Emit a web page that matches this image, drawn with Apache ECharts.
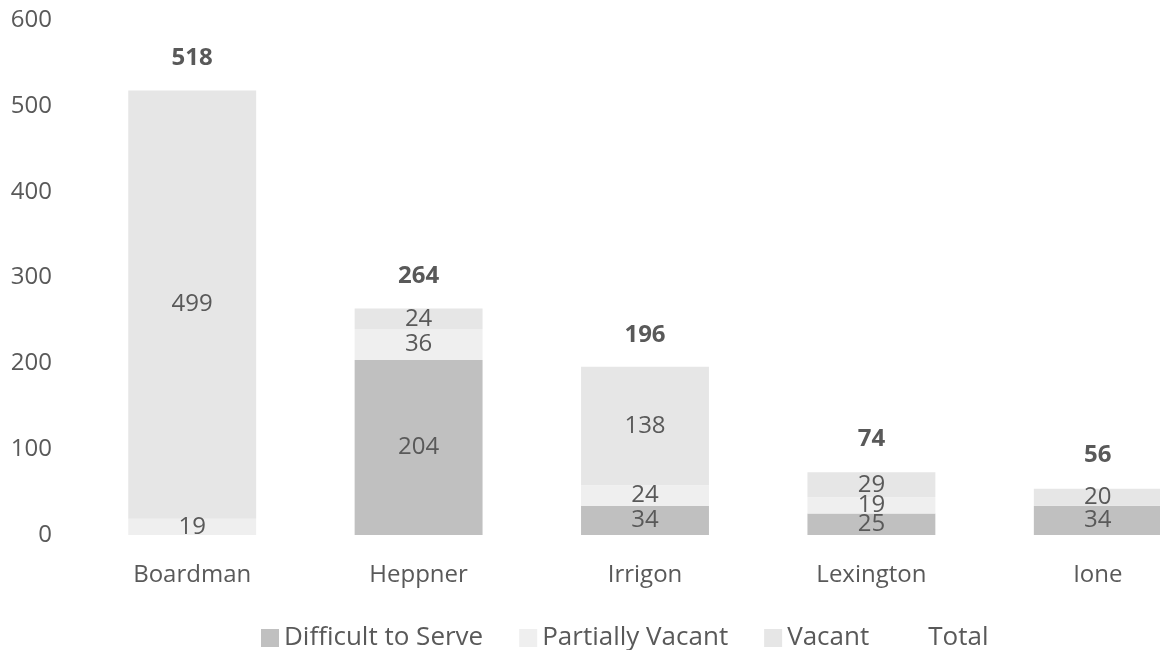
<!DOCTYPE html>
<html><head><meta charset="utf-8">
<script src="https://cdn.jsdelivr.net/npm/echarts@6/dist/echarts.min.js"></script>
<style>html,body{margin:0;padding:0;background:#fff}#c{width:1160px;height:650px}</style>
</head><body><div id="c"></div>
<script>
const categories = ['Boardman','Heppner','Irrigon','Lexington','Ione'];
const difficult = [0, 204, 34, 25, 34];
const partial = [19, 36, 24, 19, 0];
const vacant = [499, 24, 138, 29, 20];
const totals = [518, 264, 196, 74, 56];
const yTicks = [0, 100, 200, 300, 400, 500, 600];

const FONT = 'Open Sans';
const TXT = '#595959';
const hideZero = p => p.value === 0 ? '' : String(p.value);
const segLabel = {show: true, position: 'inside', color: TXT, fontSize: 24, fontFamily: FONT, formatter: hideZero};

const chart = echarts.init(document.getElementById('c'), null, {renderer: 'canvas'});
chart.setOption({
  animation: false,
  textStyle: {fontFamily: FONT},
  grid: {left: 79, top: 20, width: 1132, bottom: 115, containLabel: false, outerBoundsMode: 'none'},
  legend: {
    top: 620, left: 256, itemGap: 36, itemWidth: 18, itemHeight: 18,
    textStyle: {color: TXT, fontSize: 26, fontFamily: FONT},
    data: [{name: 'Difficult to Serve', icon: 'rect'}, {name: 'Partially Vacant', icon: 'rect'}, {name: 'Vacant', icon: 'rect'}, {name: 'Total', icon: 'none'}]
  },
  xAxis: {
    type: 'category', data: categories,
    axisLine: {show: false}, axisTick: {show: false},
    axisLabel: {color: TXT, fontSize: 24, fontFamily: FONT, margin: 28}
  },
  yAxis: {
    type: 'value', min: yTicks[0], max: yTicks[yTicks.length - 1], interval: 100,
    axisLine: {show: false}, axisTick: {show: false}, splitLine: {show: false},
    axisLabel: {color: TXT, fontSize: 24, fontFamily: FONT, margin: 27}
  },
  series: [
    {name: 'Difficult to Serve', type: 'bar', stack: 's', data: difficult, barWidth: '56.5%',
     itemStyle: {color: '#c0c0c0'}, label: segLabel},
    {name: 'Partially Vacant', type: 'bar', stack: 's', data: partial,
     itemStyle: {color: '#efefef'}, label: segLabel},
    {name: 'Vacant', type: 'bar', stack: 's', data: vacant,
     itemStyle: {color: '#e6e6e6'}, label: segLabel},
    {name: 'Total', type: 'line', data: totals, symbol: 'circle', symbolSize: 2, showSymbol: true,
     itemStyle: {color: 'rgba(255,255,255,0)'}, lineStyle: {width: 0, color: 'rgba(255,255,255,0)'},
     label: {show: true, position: 'top', distance: 19, color: TXT, fontSize: 24, fontWeight: 'bold', fontFamily: FONT}}
  ]
});
</script></body></html>
